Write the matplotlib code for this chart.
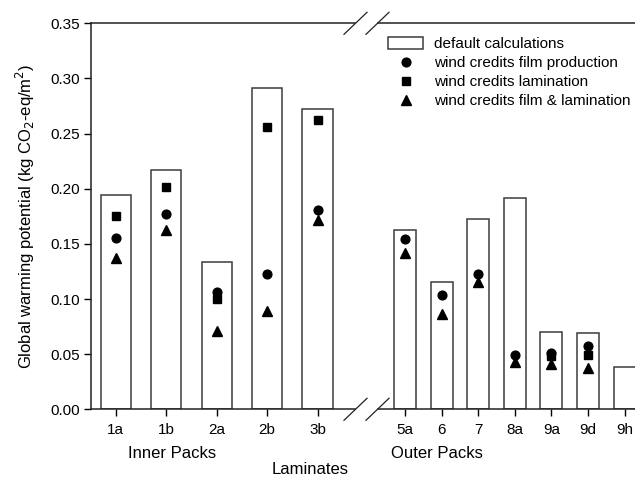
import matplotlib
matplotlib.use('Agg')
import matplotlib.pyplot as plt
from matplotlib.patches import Rectangle
from matplotlib.lines import Line2D
import numpy as np

plt.rcParams['font.family'] = ['Liberation Sans', 'DejaVu Sans']
plt.rcParams['font.size'] = 11

# data
inner_labels = ['1a', '1b', '2a', '2b', '3b']
inner_default = [0.194, 0.217, 0.134, 0.291, 0.272]
inner_film = [0.155, 0.177, 0.106, 0.123, 0.181]
inner_lam = [0.175, 0.202, 0.100, 0.256, 0.262]
inner_both = [0.137, 0.163, 0.071, 0.089, 0.172]

outer_labels = ['5a', '6', '7', '8a', '9a', '9d', '9h']
outer_default = [0.163, 0.115, 0.173, 0.192, 0.070, 0.069, 0.038]
outer_film = [0.154, 0.104, 0.123, 0.049, 0.051, 0.057, np.nan]
outer_lam = [np.nan, np.nan, np.nan, np.nan, 0.048, 0.049, np.nan]
outer_both = [0.142, 0.086, 0.115, 0.043, 0.041, 0.037, np.nan]

W, H = 635, 480
fig = plt.figure(figsize=(W / 100, H / 100), dpi=100)

# pixel geometry of the two axes parts
x0, x1, x2, x3 = 90.7, 355.5, 377.5, 635.0
ytop, ybot = 23.3, 409.3
axL = fig.add_axes([x0 / W, 1 - ybot / H, (x1 - x0) / W, (ybot - ytop) / H])
axR = fig.add_axes([x2 / W, 1 - ybot / H, (x3 - x2) / W, (ybot - ytop) / H], sharey=axL)

edge = '#3c3c3c'
ms = dict(color='black', linestyle='none')


def draw(ax, labels, dflt, film, lam, both):
    x = np.arange(len(labels))
    ax.bar(x, dflt, 0.6, color='white', edgecolor=edge, linewidth=1.1, zorder=2)
    ax.plot(x, film, marker='o', markersize=6.3, zorder=3, **ms)
    ax.plot(x, lam, marker='s', markersize=5.8, zorder=3, **ms)
    ax.plot(x, both, marker='^', markersize=6.5, zorder=3, **ms)
    ax.set_xticks(x)
    ax.set_xticklabels(labels)
    ax.tick_params(axis='x', direction='out', length=5, width=1, pad=5, labelsize=11)


draw(axL, inner_labels, inner_default, inner_film, inner_lam, inner_both)
draw(axR, outer_labels, outer_default, outer_film, outer_lam, outer_both)

axL.set_xlim(-0.495, 4.75)
axR.set_xlim(-0.75, 6.28)
axL.set_ylim(0, 0.35)
axL.set_yticks(np.arange(0, 0.351, 0.05))
axL.set_yticklabels([f'{v:.2f}' for v in np.arange(0, 0.351, 0.05)])
axL.tick_params(axis='y', direction='out', length=5, width=1, pad=3, labelsize=11)
axR.tick_params(axis='y', left=False, labelleft=False)

axL.spines['right'].set_visible(False)
axR.spines['left'].set_visible(False)
axR.spines['right'].set_visible(False)
for ax in (axL, axR):
    for s in ax.spines.values():
        s.set_linewidth(1.1)
        s.set_color('#222222')

axL.set_ylabel('Global warming potential (kg CO$_2$-eq/m$^2$)', fontsize=12, labelpad=9)

# axis break marks
for xc in (x1, x2):
    for yc in (ytop, ybot):
        fig.add_artist(Line2D([(xc - 11.5) / W, (xc + 11.5) / W],
                              [1 - (yc + 11) / H, 1 - (yc - 11) / H],
                              color='#222222', linewidth=0.9))

fig.text(171.7 / W, 1 - 454 / H, 'Inner Packs', ha='center', va='center', fontsize=12)
fig.text(436.7 / W, 1 - 454 / H, 'Outer Packs', ha='center', va='center', fontsize=12)
fig.text(310 / W, 1 - 470 / H, 'Laminates', ha='center', va='center', fontsize=12)

handles = [
    Rectangle((0, 0), 1, 1, facecolor='white', edgecolor=edge, linewidth=1.1),
    Line2D([], [], marker='o', markersize=6.3, **ms),
    Line2D([], [], marker='s', markersize=5.8, **ms),
    Line2D([], [], marker='^', markersize=6.5, **ms),
]
labels = ['default calculations', 'wind credits film production',
          'wind credits lamination', 'wind credits film & lamination']
fig.legend(handles, labels, loc='upper left', bbox_to_anchor=(388 / W, 1 - 37 / H),
           frameon=False, fontsize=11, handlelength=2.3, handleheight=0.8,
           handletextpad=0.7, labelspacing=0.32, borderpad=0, borderaxespad=0)

fig.savefig('out.png', dpi=100)
